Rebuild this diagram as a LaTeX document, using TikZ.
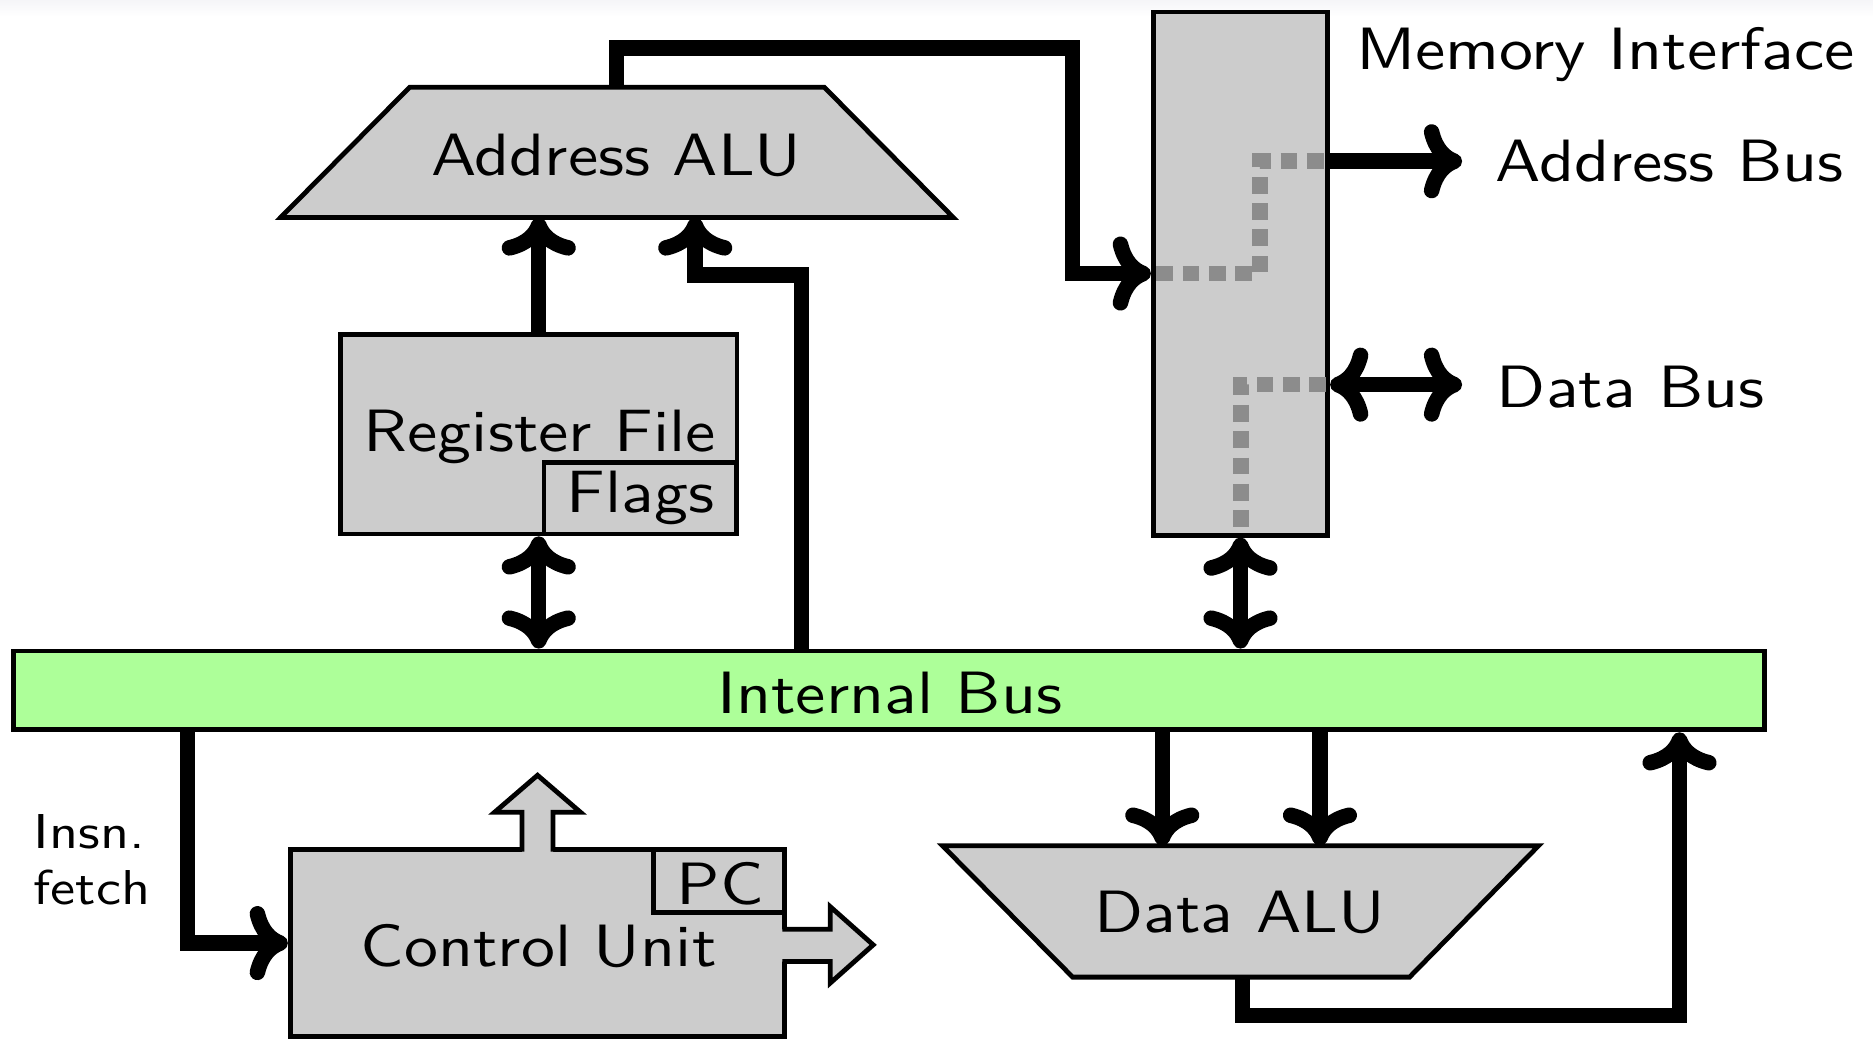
\documentclass[tikz,border=0pt]{standalone}
\usepackage{fontspec}
\setsansfont{lmsans10-regular.otf}
\usepackage{graphicx}
\usetikzlibrary{arrows.meta,calc}
\definecolor{boxgray}{RGB}{204,204,204}
\definecolor{busgreen}{RGB}{173,255,153}
\definecolor{dotgray}{RGB}{140,140,140}
\definecolor{topband}{RGB}{245,245,248}
\newcommand{\stxt}[1]{\scalebox{1.137}[1]{#1}}
\newcommand{\sstxt}[1]{\scalebox{1.15}[1]{#1}}
\begin{document}
\begin{tikzpicture}[x=1pt,y=-1pt,
  box/.style={draw=black,fill=boxgray,line width=4pt,inner sep=0pt},
  shapeline/.style={draw=black,fill=boxgray,line width=4pt,line join=miter},
  lbl/.style={inner sep=0pt,anchor=base,font=\fontsize{50}{60}\selectfont\sffamily},
  small/.style={inner sep=0pt,anchor=base west,font=\fontsize{41}{47}\selectfont\sffamily},
  tipx/.tip={Computer Modern Rightarrow[length=32pt,width=62pt]},
  conn/.style={line width=13pt,-tipx},
  dconn/.style={line width=13pt,tipx-tipx},
  dots/.style={draw=dotgray,line width=13pt,dash pattern=on 14pt off 8pt}]
\useasboundingbox (0,0) rectangle (1568,870);
\fill[white] (0,0) rectangle (1568,870);
\shade[top color=topband,bottom color=white] (0,0) rectangle (1568,14);

% shapes
\node[box,minimum width=332pt,minimum height=167pt] (rf) at (451,363.5) {};
\node[box,minimum width=161pt,minimum height=60pt] (fl) at (536,417) {};
\node[box,minimum width=146pt,minimum height=438pt] (mi) at (1038.5,229) {};
\node[draw=black,fill=busgreen,line width=4pt,inner sep=0pt,minimum width=1466pt,minimum height=66pt] (ib) at (744,578) {};
\node[box,minimum width=414pt,minimum height=157pt] (cu) at (450,789.5) {};
\node[box,minimum width=110pt,minimum height=53pt] (pc) at (602,737.5) {};
\path[shapeline] (343,73) coordinate (aa-tl) -- (690,73) coordinate (aa-tr)
  -- (798,182) coordinate (aa-br) -- (235,182) coordinate (aa-bl) -- cycle;
\path[shapeline] (789,708) coordinate (da-tl) -- (1288,708) coordinate (da-tr)
  -- (1180,818) coordinate (da-br) -- (898,818) coordinate (da-bl) -- cycle;

% fat arrows of the control unit
\fill[boxgray] (437,714) -- (437,680) -- (414,680) -- (450,649) -- (486,680) -- (463,680) -- (463,714) -- cycle;
\draw[line width=4pt,line join=miter] (437,713) -- (437,680) -- (414,680) -- (450,649) -- (486,680) -- (463,680) -- (463,713);
\fill[boxgray] (654,778) -- (695,778) -- (695,759) -- (731,791) -- (695,823) -- (695,805) -- (654,805) -- cycle;
\draw[line width=4pt,line join=miter] (655,778) -- (695,778) -- (695,759) -- (731,791) -- (695,823) -- (695,805) -- (655,805);

% dotted paths inside the memory interface
\draw[dots] (968,229) -- (1055,229) -- (1055,135) -- (1110,135);
\draw[dots] (1110,322) -- (1039,322) -- (1039,446);

% labels
\node[lbl] (aaT) at (516,147) {\stxt{Address ALU}};
\node[lbl] (rfT) at (452,378) {\stxt{Register File}};
\node[lbl] (flT) at (536,429) {\stxt{Flags}};
\node[lbl] (ibT) at (745,597) {\stxt{Internal Bus}};
\node[lbl] (cuT) at (451,809) {\stxt{Control Unit}};
\node[lbl] (pcT) at (603,757) {\stxt{PC}};
\node[lbl] (daT) at (1038,781) {\stxt{Data ALU}};
\node[lbl,anchor=base west] (miT) at (1135,58) {\stxt{Memory Interface}};
\node[lbl,anchor=base west] (abT) at (1252,152) {\stxt{Address Bus}};
\node[lbl,anchor=base west] (dbT) at (1253,341) {\stxt{Data Bus}};
\node[small] (insT) at (28,757) {\sstxt{\begin{tabular}[b]{@{}l@{}}Insn.\\fetch\end{tabular}}};

% connectors
\coordinate (aaOut) at (516,73);
\coordinate (abEnd) at (1224,135);
\coordinate (dbEnd) at (1224,322);
\draw[conn] (aaOut) |- (898,40) |- (mi.west |- 0,229);
\draw[conn] (rf.north) -- (rf.north |- aa-bl);
\draw[conn] (ib.north -| 671,0) |- (582,230) -- (582,0 |- aa-bl);
\draw[dconn] (rf.south) -- (rf.south |- ib.north);
\draw[dconn] (mi.south) -- (mi.south |- ib.north);
\draw[conn] (mi.east |- abEnd) -- (abEnd);
\draw[dconn] (mi.east |- dbEnd) -- (dbEnd);
\draw[conn] (ib.south -| 157,0) |- (cu.west);
\draw[conn] (ib.south -| 973,0) -- (973,0 |- da-tl);
\draw[conn] (ib.south -| 1105,0) -- (1105,0 |- da-tl);
\draw[conn] (1040,0 |- da-bl) |- (1406,850) -- (1406,0 |- ib.south);
\end{tikzpicture}
\end{document}
